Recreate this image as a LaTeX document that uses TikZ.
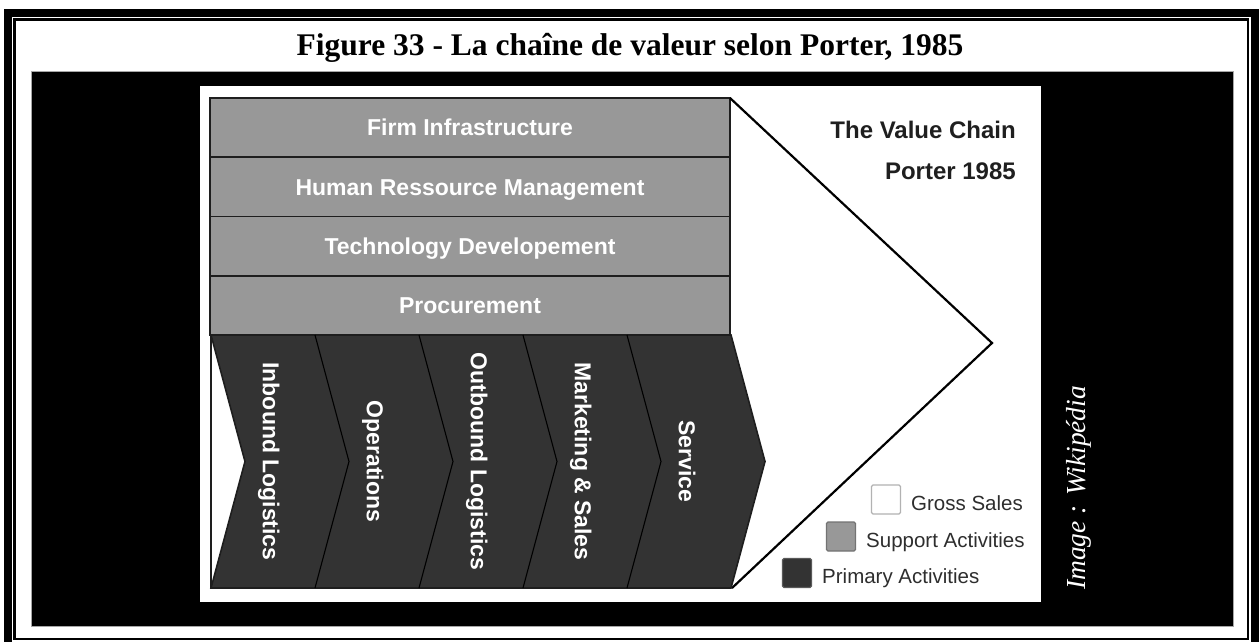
\documentclass[tikz,border=0pt]{standalone}
\usepackage{fontspec}
\setmainfont{Liberation Serif}
\newfontfamily\arialf{Liberation Sans}
\definecolor{supgray}{HTML}{989898}
\definecolor{primgray}{HTML}{333333}
\definecolor{linegray}{HTML}{1E1E1E}
\begin{document}
\begin{tikzpicture}[x=1pt,y=-1pt,
  suprow/.style={draw=linegray, line width=1.6pt, fill=supgray, minimum width=520pt, minimum height=59.25pt,
     inner sep=0pt, text=white, font=\arialf\bfseries\fontsize{23}{27}\selectfont, text height=16.5pt, text depth=0pt},
  primlabel/.style={rotate=-90, inner sep=0pt, text=white, font=\arialf\bfseries\fontsize{23}{27}\selectfont,
     text height=16.5pt, text depth=0pt},
  legbox/.style={minimum width=29pt, minimum height=29pt, inner sep=0pt, line width=1.3pt, rounded corners=1.5pt},
  legtext/.style={anchor=base west, inner sep=0pt, text=black!82, font=\arialf\fontsize{20.5}{24}\selectfont},
  vctext/.style={anchor=base east, inner sep=0pt, text=black!88, font=\arialf\bfseries\fontsize{24}{28}\selectfont}]
\useasboundingbox (0,0) rectangle (1260,641);
\clip (0,0) rectangle (1260,641);
\fill[white] (0,0) rectangle (1260,641);
% page frame
\draw[line width=7.4pt] (7.8,12.8) rectangle (1255,680);
\draw[line width=2.4pt] (14.5,19.5) rectangle (1248,639);
% title
\node[anchor=base, inner sep=0pt, font=\bfseries\fontsize{31.5}{36}\selectfont] (title) at (630,55)
  {Figure 33 - La chaîne de valeur selon Porter, 1985};
% image frame
\draw[fill=black, draw=black!35, line width=0.8pt] (31,71) rectangle (1233,626);
\fill[white] (200,86) rectangle (1041,602);
% support activities
\node[suprow] (fi)  at (470,127.625) {Firm Infrastructure};
\node[suprow] (hrm) at (470,186.875) {Human Ressource Management};
\node[suprow] (td)  at (470,246.125) {Technology Developement};
\node[suprow] (pr)  at (470,305.375) {Procurement};
% gross sales arrow
\coordinate (atop) at (730,98);
\coordinate (atip) at (992,343);
\coordinate (abot) at (732,588);
\draw[line width=2.2pt, line join=miter] (atop) -- (atip) -- (abot);
% primary activities
\fill[primgray] (211,335) -- (731,335) -- (765,461.5) -- (731,588) -- (211,588) -- (245,461.5) -- cycle;
\draw[linegray, line width=1.6pt] (245,461.5) -- (211,335) -- (731,335) -- (765,461.5) -- (731,588) -- (211,588) -- cycle;
\draw[linegray, line width=1.6pt] (211,335) -- (211,588);
\foreach \xx in {315,419,523,627}{
  \draw[black, line width=1.1pt] (\xx,335) -- (\xx+34,461.5) -- (\xx,588);
}
\node[primlabel] (il) at (271,461.5) {Inbound Logistics};
\node[primlabel] (op) at (375,461.5) {Operations};
\node[primlabel] (ol) at (479,461.5) {Outbound Logistics};
\node[primlabel] (ms) at (583,461.5) {Marketing \& Sales};
\node[primlabel] (sv) at (687,461.5) {Service};
% title texts
\node[vctext] (vc) at (1016,138) {The Value Chain};
\node[vctext] (pt) at (1016,179) {Porter 1985};
% legend
\node[legbox, fill=white, draw=black!30] (gsb) at (886,499.5) {};
\node[legtext] (gst) at (911,510) {Gross Sales};
\node[legbox, fill=supgray, draw=black!55] (sab) at (841,536.5) {};
\node[legtext] (sat) at (866,547) {Support Activities};
\node[legbox, fill=primgray, draw=black!65] (pab) at (797,573) {};
\node[legtext] (pat) at (822,583) {Primary Activities};
% credit
\node[rotate=90, anchor=base west, inner sep=0pt, text=white, font=\itshape\fontsize{27.5}{30}\selectfont] (credit)
  at (1085,590) {Image : Wikipédia};
\end{tikzpicture}
\end{document}
